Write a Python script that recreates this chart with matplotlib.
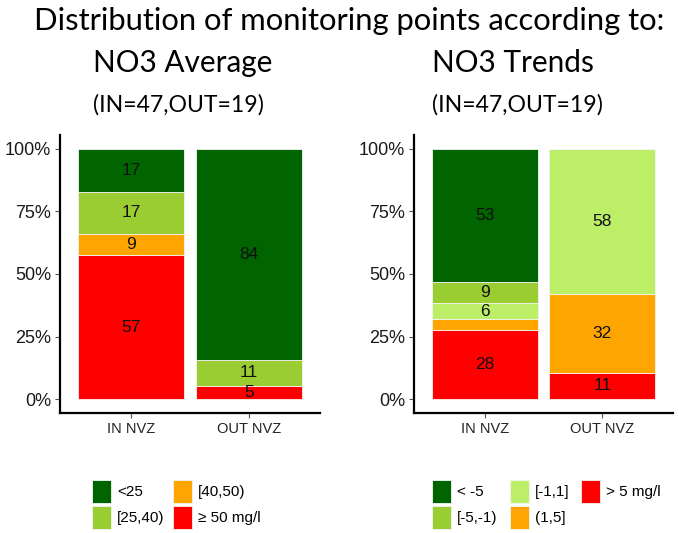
import matplotlib
matplotlib.use("Agg")
import matplotlib.pyplot as plt
from matplotlib.patches import Patch
import numpy as np

# ---- data ----
groups = ["IN NVZ", "OUT NVZ"]

avg_classes = ["<25", "[25,40)", "[40,50)", "≥ 50 mg/l"]
avg_counts_in = [8, 8, 4, 27]
avg_counts_out = [16, 2, 0, 1]
avg_colors = ["#006400", "#9ACD32", "#FFA500", "#FF0000"]

trend_classes = ["< -5", "[-5,-1)", "[-1,1]", "(1,5]", "> 5 mg/l"]
trend_counts_in = [25, 4, 3, 2, 13]
trend_counts_out = [0, 0, 11, 6, 2]
trend_colors = ["#006400", "#9ACD32", "#BCEE68", "#FFA500", "#FF0000"]

yticks = [0, 0.25, 0.5, 0.75, 1.0]
ytick_labels = ["0%", "25%", "50%", "75%", "100%"]

title_main = "Distribution of monitoring points according to:"
sub_left = "NO3 Average"
sub_right = "NO3 Trends"
counts_text = "(IN=47,OUT=19)"

sans = "Liberation Sans"
title_font = "Lato"

W, H = 679, 533
fig = plt.figure(figsize=(W / 100, H / 100), dpi=100)


def draw_panel(rect, counts_in, counts_out, colors):
    ax = fig.add_axes(rect)
    x = np.arange(1, len(groups) + 1)
    tot = np.array([sum(counts_in), sum(counts_out)], dtype=float)
    data = np.array([counts_in, counts_out], dtype=float).T / tot  # classes x groups
    bottom = np.zeros(len(groups))
    for k in range(data.shape[0] - 1, -1, -1):
        vals = data[k]
        ax.bar(x, vals, width=0.9, bottom=bottom, color=colors[k],
               edgecolor="#f4f4f4", linewidth=0.6)
        for xi, v, b in zip(x, vals, bottom):
            pct = v * 100
            if pct >= 5:
                ax.text(xi, b + v / 2, f"{pct:.0f}", ha="center", va="center",
                        fontsize=12.5, family=sans, color="#111111")
        bottom = bottom + vals
    ax.set_xlim(0.4, 2.6)
    ax.set_ylim(-0.056, 1.056)
    ax.set_xticks(x)
    ax.set_xticklabels(groups, family=sans, fontsize=10.5, color="#222222")
    ax.set_yticks(yticks)
    ax.set_yticklabels(ytick_labels, family=sans, fontsize=13, color="#1a1a1a")
    for s in ["top", "right"]:
        ax.spines[s].set_visible(False)
    for s in ["left", "bottom"]:
        ax.spines[s].set_linewidth(1.6)
        ax.spines[s].set_color("black")
    ax.tick_params(axis="both", length=3.5, width=0.8, color="#555555", pad=3)
    return ax


ax1 = draw_panel([60 / W, 1 - 413 / H, 260 / W, 278 / H],
                 avg_counts_in, avg_counts_out, avg_colors)
ax2 = draw_panel([414 / W, 1 - 413 / H, 259 / W, 278 / H],
                 trend_counts_in, trend_counts_out, trend_colors)

# titles
fig.text(349 / W, 1 - 30 / H, title_main, ha="center", va="baseline",
         fontsize=22.3, family=title_font, color="black")
fig.text(93 / W, 1 - 72 / H, sub_left, ha="left", va="baseline",
         fontsize=21.4, family=title_font, color="black")
fig.text(432 / W, 1 - 72 / H, sub_right, ha="left", va="baseline",
         fontsize=21.4, family=title_font, color="black")
fig.text(93 / W, 1 - 112 / H, counts_text, ha="left", va="baseline",
         fontsize=16.6, family=title_font, color="black")
fig.text(432 / W, 1 - 112 / H, counts_text, ha="left", va="baseline",
         fontsize=16.6, family=title_font, color="black")

# legends
fs = 11
fpx = fs * 100 / 72
hh = (23 * 0.72 / fs - 0.245) / 0.65
legkw = dict(frameon=False, handlelength=19 / fpx, handleheight=hh,
             handletextpad=6 / fpx, labelspacing=3 / fpx,
             borderpad=0, borderaxespad=0,
             prop={"family": sans, "size": fs})

h1 = [Patch(facecolor=c, edgecolor="#f4f4f4", linewidth=0.6) for c in avg_colors]
fig.legend(h1, avg_classes, ncol=2, loc="upper left",
           bbox_to_anchor=(92 / W, 1 - 480 / H), columnspacing=8.5 / fpx, **legkw)

h2 = [Patch(facecolor=c, edgecolor="#f4f4f4", linewidth=0.6) for c in trend_colors]
fig.legend(h2, trend_classes, ncol=3, loc="upper left",
           bbox_to_anchor=(432 / W, 1 - 480 / H), columnspacing=12 / fpx, **legkw)

fig.savefig("out.png", dpi=100)
